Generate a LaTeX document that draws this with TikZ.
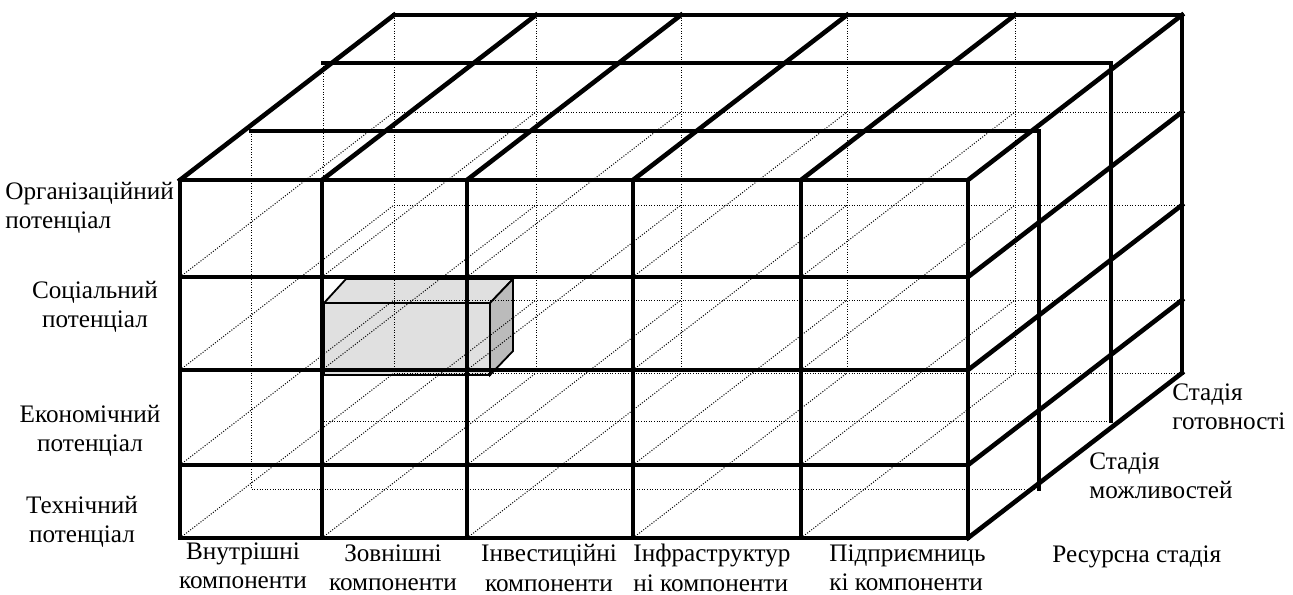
\documentclass[tikz,border=0pt]{standalone}
\usepackage{fontspec}
\setmainfont{Liberation Serif}
\usepackage{xcolor}

\begin{document}
\begin{tikzpicture}[x=0.5pt,y=-0.5pt,
  gridline/.style={line width=2.3pt,line cap=rect},
  hiddenline/.style={line width=0.5pt,dash pattern=on 0.5pt off 0.8pt},
  mylabel/.style={font=\fontsize{12.6}{14.7}\selectfont,inner sep=0pt}]
\definecolor{boxfront}{HTML}{E0E0E0}
\definecolor{boxside}{HTML}{BBBBBB}
\useasboundingbox (0,0) rectangle (1293,594);
% shaded cell
\filldraw[fill=boxfront,line width=0.9pt] (324,303) -- (346,279) -- (513,279) -- (490,303) -- cycle;
\filldraw[fill=boxfront,line width=0.9pt] (324,303) rectangle (490,375);
\filldraw[fill=boxside,line width=0.9pt] (490,303) -- (513,279) -- (513,351) -- (490,375) -- cycle;
% hidden lines
\foreach \x in {180,322,467,633,801}
  {\draw[hiddenline] (\x+214,15) -- (\x+214,373);}
\foreach \y in {277,370,465,538}
  {\draw[hiddenline] (394,\y-165) -- (1182,\y-165);}
\foreach \dx/\dy in {71/49,143/117}
  {\draw[hiddenline] (180+\dx,180-\dy) -- (180+\dx,538-\dy) -- (968+\dx,538-\dy);}
\foreach \x in {180,322,467,633,801}
  \foreach \y in {277,370,465,538}
  {\draw[hiddenline] (\x,\y) -- (\x+214,\y-165);}
% front face
\foreach \x in {180,322,467,633,801,968}
  {\draw[gridline] (\x,180) -- (\x,538);}
\foreach \y in {180,277,370,465,538}
  {\draw[gridline] (180,\y) -- (968,\y);}
% top and right faces
\foreach \dx/\dy in {71/49,143/117,214/165}
  {\draw[gridline] (180+\dx,180-\dy) -- (968+\dx,180-\dy) -- (968+\dx,538-\dy);}
\foreach \x in {180,322,467,633,801}
  {\draw[gridline] (\x,180) -- (\x+214,15);}
\foreach \y in {180,277,370,465,538}
  {\draw[gridline] (968,\y) -- (1182,\y-165);}
% labels
\node[mylabel,anchor=west,align=left] (org) at (5,208) {Організаційний\\потенціал};
\node[mylabel,align=center] (soc) at (95,307) {Соціальний\\потенціал};
\node[mylabel,align=center] (eco) at (90,431) {Економічний\\потенціал};
\node[mylabel,align=center] (tech) at (82,522) {Технічний\\потенціал};
\node[mylabel,align=center] (inner) at (243,566) {Внутрішні\\компоненти};
\node[mylabel,align=center] (outer) at (393,568) {Зовнішні\\компоненти};
\node[mylabel,align=center] (invest) at (549,568) {Інвестиційні\\компоненти};
\node[mylabel,anchor=west,align=left] (infra) at (633,568) {Інфраструктур\\ні компоненти};
\node[mylabel,anchor=west,align=left] (entre) at (829,568) {Підприємниць\\кі компоненти};
\node[mylabel,anchor=west] (resource) at (1052,557) {Ресурсна стадія};
\node[mylabel,anchor=west,align=left] (possib) at (1089,476) {Стадія\\можливостей};
\node[mylabel,anchor=west,align=left] (ready) at (1172,407) {Стадія\\готовності};
\end{tikzpicture}
\end{document}
